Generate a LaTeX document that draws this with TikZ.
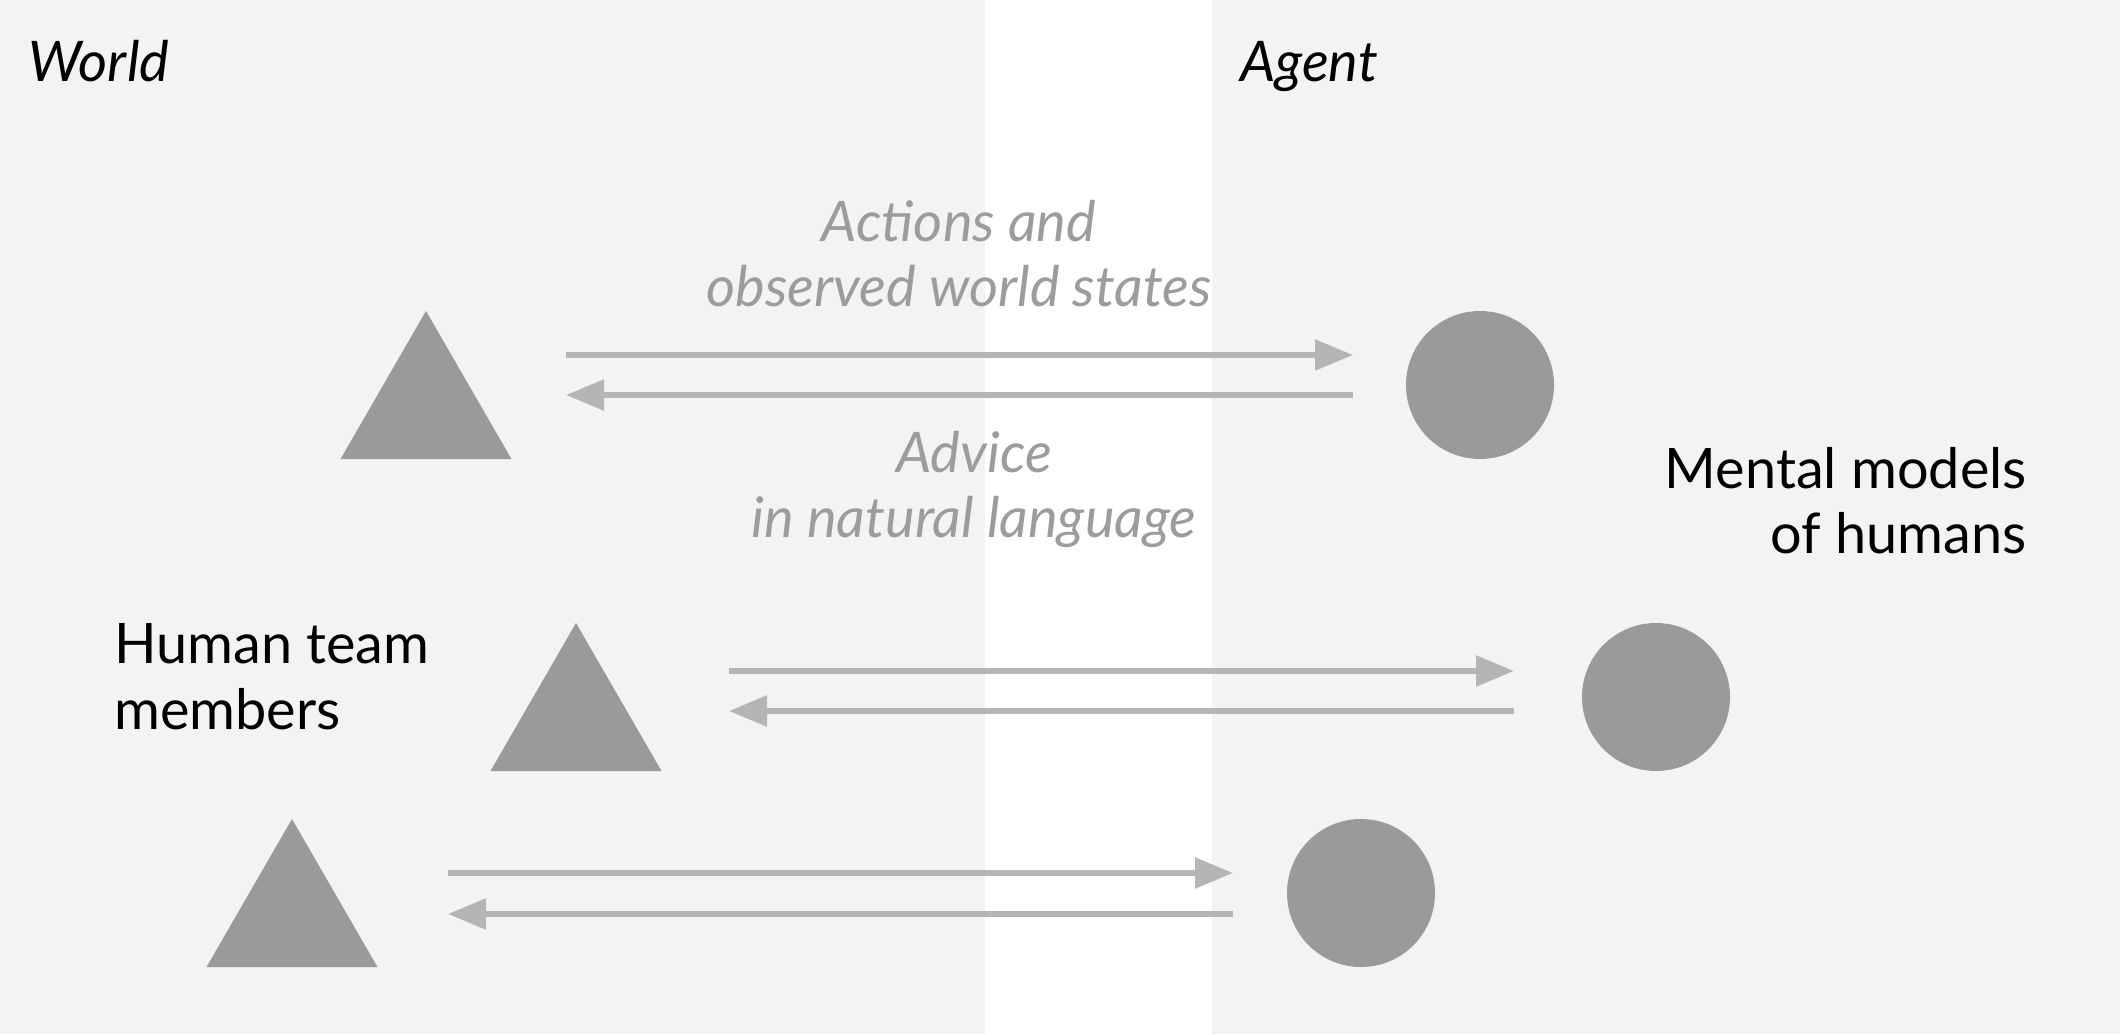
\documentclass[tikz,border=0pt]{standalone}
\usepackage{fontspec}
\setmainfont{Lato}
\usetikzlibrary{arrows.meta,shapes.geometric}
\definecolor{bg}{HTML}{F3F3F3}
\definecolor{shapegray}{HTML}{9A9A9A}
\definecolor{arrowgray}{HTML}{B5B5B5}
\definecolor{labelgray}{HTML}{9C9C9C}
\tikzset{
  tri/.style={regular polygon, regular polygon sides=3, minimum size=197.5pt, inner sep=0pt, outer sep=0pt, fill=shapegray, draw=none},
  dot/.style={circle, minimum size=148pt, inner sep=0pt, outer sep=0pt, fill=shapegray, draw=none},
  link/.style={draw=arrowgray, line width=5.6pt, -{Triangle[length=38pt,width=30pt]}},
  lbl/.style={inner sep=0pt, anchor=base, font=\fontsize{56}{66}\selectfont\itshape, text=labelgray},
  head/.style={inner sep=0pt, anchor=base west, font=\fontsize{56}{66}\selectfont\itshape, text=black},
  txt/.style={inner sep=0pt, font=\fontsize{55.8}{66}\selectfont, text=black},
}
\begin{document}
\begin{tikzpicture}[x=1pt,y=-1pt]
\useasboundingbox (0,0) rectangle (2120,1034);
\fill[bg] (0,0) rectangle (2120,1034);
\fill[white] (985,0) rectangle (1212,1034);

\node[head] (world) at (28,81) {World};
\node[head] (agent) at (1240,81) {Agent};

% row 1
\node[tri] (t1) at (426,409.7) {};
\node[dot] (c1) at (1480,385) {};
\coordinate (a1s) at (566,355);
\coordinate (a1e) at (1353,355);
\coordinate (b1s) at (1353,395);
\coordinate (b1e) at (566,395);
\draw[link] (a1s) -- (a1e);
\draw[link] (b1s) -- (b1e);

\node[lbl] (act1) at (959,241) {Actions and};
\node[lbl] (act2) at (959,306) {observed world states};
\node[lbl] (adv1) at (974,472) {Advice};
\node[lbl] (adv2) at (974,537) {in natural language};

% row 2
\node[tri] (t2) at (576,721.7) {};
\node[dot] (c2) at (1656,697) {};
\coordinate (a2s) at (729,671);
\coordinate (a2e) at (1514,671);
\coordinate (b2s) at (1514,711);
\coordinate (b2e) at (729,711);
\draw[link] (a2s) -- (a2e);
\draw[link] (b2s) -- (b2e);

% row 3
\node[tri] (t3) at (292,917.7) {};
\node[dot] (c3) at (1361,893) {};
\coordinate (a3s) at (448,873);
\coordinate (a3e) at (1233,873);
\coordinate (b3s) at (1233,914);
\coordinate (b3e) at (448,914);
\draw[link] (a3s) -- (a3e);
\draw[link] (b3s) -- (b3e);

\node[txt, anchor=base west] (hum1) at (114,663) {Human team};
\node[txt, anchor=base west] (hum2) at (114,729) {members};
\node[txt, anchor=base east] (men1) at (2027,488) {Mental models};
\node[txt, anchor=base east] (men2) at (2027,553) {of humans};
\end{tikzpicture}
\end{document}
